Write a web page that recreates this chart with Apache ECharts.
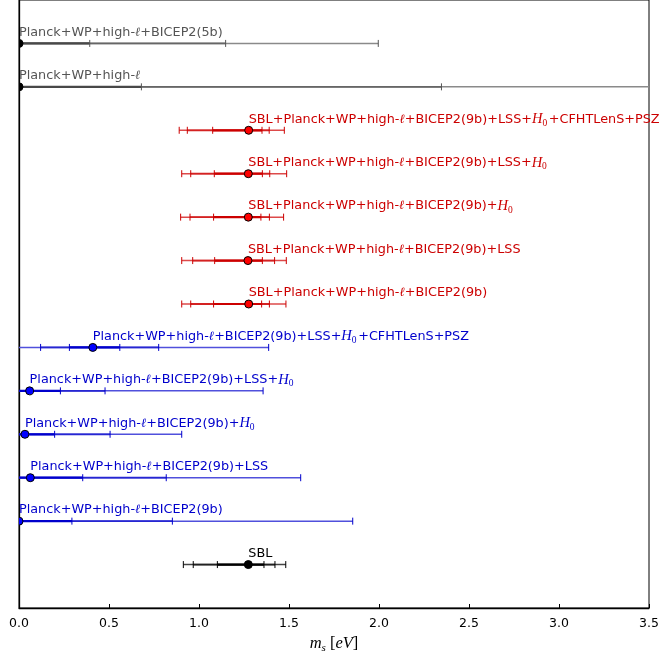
<!DOCTYPE html>
<html>
<head>
<meta charset="utf-8">
<script src="https://cdn.jsdelivr.net/npm/echarts@6/dist/echarts.min.js"></script>
<style>
html,body{margin:0;padding:0;background:#fff;}
#chart{width:662px;height:653px;}
</style>
</head>
<body>
<div id="chart"></div>
<script>
// ---- data ----
const rowLabels = [
  'Planck+WP+high-{l|ℓ}+BICEP2(5b)',
  'Planck+WP+high-{l|ℓ}',
  'SBL+Planck+WP+high-{l|ℓ}+BICEP2(9b)+LSS+{h|H}{s|0}{g| }+CFHTLenS+PSZ',
  'SBL+Planck+WP+high-{l|ℓ}+BICEP2(9b)+LSS+{h|H}{s|0}',
  'SBL+Planck+WP+high-{l|ℓ}+BICEP2(9b)+{h|H}{s|0}',
  'SBL+Planck+WP+high-{l|ℓ}+BICEP2(9b)+LSS',
  'SBL+Planck+WP+high-{l|ℓ}+BICEP2(9b)',
  'Planck+WP+high-{l|ℓ}+BICEP2(9b)+LSS+{h|H}{s|0}{g| }+CFHTLenS+PSZ',
  'Planck+WP+high-{l|ℓ}+BICEP2(9b)+LSS+{h|H}{s|0}',
  'Planck+WP+high-{l|ℓ}+BICEP2(9b)+{h|H}{s|0}',
  'Planck+WP+high-{l|ℓ}+BICEP2(9b)+LSS',
  'Planck+WP+high-{l|ℓ}+BICEP2(9b)',
  'SBL'
];
const rowPos  = [1, 2, 3, 4, 5, 6, 7, 8, 9, 10, 11, 12, 13];
const rowKind = ['gray','gray','red','red','red','red','red','blue','blue','blue','blue','blue','black'];
const centers = [0, 0, 1.276, 1.274, 1.274, 1.272, 1.276, 0.41, 0.059, 0.033, 0.063, 0, 1.274];
const lo3 = [0, 0, 0.890, 0.904, 0.898, 0.904, 0.904, 0, 0, 0, 0, 0, 0.913];
const lo2 = [0, 0, 0.935, 0.954, 0.950, 0.965, 0.954, 0.12, 0, 0, 0, 0, 0.968];
const lo1 = [0, 0, 1.076, 1.085, 1.081, 1.087, 1.081, 0.28, 0, 0, 0, 0, 1.102];
const hi1 = [0.393, 0.68, 1.350, 1.352, 1.344, 1.352, 1.348, 0.56, 0.23, 0.198, 0.354, 0.294, 1.361];
const hi2 = [1.148, 2.347, 1.390, 1.393, 1.391, 1.420, 1.391, 0.776, 0.478, 0.506, 0.818, 0.852, 1.422];
const hi3 = [1.996, 3.8, 1.474, 1.487, 1.470, 1.485, 1.483, 1.387, 1.356, 0.904, 1.565, 1.854, 1.482];
const xTicks = [0, 0.5, 1.0, 1.5, 2.0, 2.5, 3.0, 3.5];

// ---- styles ----
const palette = {
  gray:  {seg:['#8a8a8a','#666666','#484848'], tick:'#555555', marker:'#000000', text:'#555555'},
  red:   {seg:['#dd4a4a','#d42222','#cc0000'], tick:'#cc0000', marker:'#ff0000', text:'#cc0000'},
  blue:  {seg:['#5050dc','#2626d2','#0000cc'], tick:'#0000cc', marker:'#0000ff', text:'#0000cc'},
  black: {seg:['#444444','#222222','#000000'], tick:'#000000', marker:'#000000', text:'#000000'}
};

const data = rowPos.map((r, i) => [r, centers[i], lo3[i], lo2[i], lo1[i], hi1[i], hi2[i], hi3[i]]);

function barsItem(params, api) {
  const i = params.dataIndex;
  const pal = palette[rowKind[i]];
  const row = api.value(0);
  const y = api.coord([0, row])[1];
  const px = v => api.coord([v, row])[0];
  const children = [];
  const segs = [[2, 7, 1.5], [3, 6, 1.8], [4, 5, 2.2]];
  segs.forEach((s, k) => {
    children.push({type:'line', shape:{x1:px(api.value(s[0])), y1:y, x2:px(api.value(s[1])), y2:y},
      style:{stroke:pal.seg[k], lineWidth:s[2]}});
  });
  [2,3,4,5,6,7].forEach(d => {
    const v = api.value(d);
    if (v > 0) {
      const x = px(v);
      children.push({type:'line', shape:{x1:x, y1:y-3.5, x2:x, y2:y+3.5}, style:{stroke:pal.tick, lineWidth:1}});
    }
  });
  children.push({type:'circle', shape:{cx:px(api.value(1)), cy:y, r:4},
    style:{fill:pal.marker, stroke:'#000', lineWidth:1}});
  return {type:'group', children};
}

function labelItem(params, api) {
  const i = params.dataIndex;
  const pal = palette[rowKind[i]];
  const row = api.value(0);
  const p = api.coord([api.value(1), row]);
  return {
    type:'text',
    style:{
      text: rowLabels[i], x:p[0], y:p[1]-11, align:'left', verticalAlign:'middle',
      fill: pal.text, fontFamily:'DejaVu Sans', fontSize:12.8, lineHeight:18,
      rich:{
        l:{fontFamily:'DejaVu Serif', fontStyle:'italic', fontSize:12.8, fill:pal.text, lineHeight:18},
        h:{fontFamily:'Liberation Serif', fontStyle:'italic', fontSize:14.5, fill:pal.text, lineHeight:18},
        s:{fontFamily:'Liberation Serif', fontSize:9.5, fill:pal.text, verticalAlign:'bottom', lineHeight:10},
        g:{fontFamily:'DejaVu Sans', fontSize:5, fill:pal.text, lineHeight:18}
      }
    }
  };
}

const chart = echarts.init(document.getElementById('chart'), null, {renderer:'canvas'});
chart.setOption({
  animation:false,
  backgroundColor:'#ffffff',
  grid:{left:19, right:13, top:0, bottom:45, show:true, borderColor:'#000', borderWidth:1,
        backgroundColor:'transparent', containLabel:false, outerBoundsMode:'none'},
  xAxis:{
    type:'value', min:xTicks[0], max:xTicks[xTicks.length-1], interval:0.5,
    axisLine:{show:true, onZero:false, lineStyle:{color:'#000', width:1.3}},
    axisTick:{show:true, inside:true, length:4, lineStyle:{color:'#000'}},
    axisLabel:{formatter:v => v.toFixed(1), fontSize:12.5, color:'#000', fontFamily:'DejaVu Sans', margin:9},
    splitLine:{show:false},
    name:'{m|m}{s|s}{n| [}{m|eV}{n|]}', nameLocation:'middle', nameGap:19,
    nameTextStyle:{
      rich:{
        m:{fontFamily:'Liberation Serif', fontStyle:'italic', fontSize:16.5, color:'#000', lineHeight:20},
        n:{fontFamily:'Liberation Serif', fontSize:16.5, color:'#000', lineHeight:20},
        s:{fontFamily:'Liberation Serif', fontStyle:'italic', fontSize:11, color:'#000', verticalAlign:'bottom', lineHeight:11}
      }
    }
  },
  yAxis:{
    type:'value', min:0, max:14, inverse:true,
    axisLine:{show:true, onZero:false, lineStyle:{color:'#000', width:1.3}},
    axisTick:{show:false}, axisLabel:{show:false}, splitLine:{show:false}
  },
  series:[
    {type:'custom', renderItem:barsItem, data:data, clip:true, encode:{x:[1,2,3,4,5,6,7], y:0}, z:2},
    {type:'custom', renderItem:labelItem, data:data, clip:false, encode:{x:1, y:0}, z:3}
  ]
});
</script>
</body>
</html>
